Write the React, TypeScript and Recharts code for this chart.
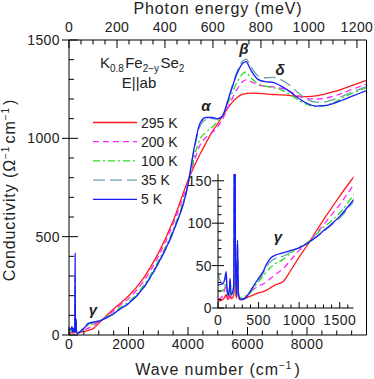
import { LineChart, Line, XAxis, YAxis } from "recharts";

const FONT = '"Liberation Sans", Arial, Helvetica, sans-serif';
const INK = "#222";

// wave number grid (cm^-1) shared by all temperatures
const wavenumber = [0, 40, 70, 90, 100, 110, 125, 140, 150, 160, 180, 195, 205, 215, 228, 240, 252, 270, 300, 350, 400, 450, 500, 550, 600, 650, 700, 800, 900, 1000, 1100, 1200, 1300, 1400, 1500, 1700, 2000, 2500, 3000, 3500, 4000, 4200, 4400, 4600, 4800, 5000, 5150, 5400, 5650, 5850, 5950, 6100, 6350, 6600, 6850, 7100, 7400, 7700, 8000, 8300, 8600, 8900, 9200, 9500, 10000];

const sigma295 = [8, 9, 11, 14, 16, 12, 10, 13, 16, 11, 12, 16, 90, 20, 12, 30, 13, 10, 10, 12, 14, 16, 18, 19, 21, 24, 27, 31, 45, 60, 74, 89, 104, 118, 132, 158, 198, 288, 415, 580, 785, 855, 918, 975, 1030, 1075, 1110, 1168, 1208, 1225, 1228, 1230, 1229, 1226, 1223, 1221, 1218, 1213, 1212, 1216, 1225, 1237, 1252, 1268, 1295];
const sigma200 = [10, 12, 18, 25, 28, 15, 12, 18, 26, 13, 14, 22, 150, 30, 13, 45, 15, 11, 11, 14, 19, 23, 26, 28, 31, 35, 39, 46, 57, 68, 77, 87, 98, 110, 122, 149, 185, 272, 398, 565, 775, 880, 965, 1005, 1028, 1060, 1095, 1175, 1250, 1290, 1297, 1290, 1272, 1265, 1262, 1255, 1240, 1217, 1202, 1200, 1203, 1215, 1230, 1248, 1275];
const sigma100 = [20, 20, 22, 28, 30, 18, 14, 20, 28, 14, 15, 25, 200, 40, 14, 55, 16, 12, 12, 15, 18, 25, 31, 37, 43, 48, 52, 57, 65, 72, 77, 86, 95, 103, 112, 137, 168, 250, 375, 535, 765, 900, 995, 1030, 1055, 1085, 1110, 1200, 1285, 1330, 1336, 1310, 1278, 1265, 1258, 1248, 1225, 1195, 1172, 1162, 1168, 1182, 1205, 1228, 1258];
const sigma35 = [40, 30, 28, 33, 38, 22, 15, 22, 33, 15, 17, 28, 300, 50, 15, 80, 18, 11, 11, 14, 20, 27, 33, 40, 49, 55, 58, 61, 66, 71, 76, 83, 90, 98, 106, 129, 158, 238, 362, 522, 765, 935, 1060, 1095, 1100, 1098, 1112, 1225, 1340, 1395, 1402, 1368, 1318, 1308, 1310, 1300, 1272, 1232, 1198, 1184, 1185, 1198, 1215, 1235, 1262];
const sigma5 = [27, 28, 30, 38, 43, 26, 15, 22, 35, 16, 18, 30, 415, 60, 14, 80, 18, 11, 10, 13, 20, 28, 35, 42, 52, 59, 62, 65, 68, 71, 76, 83, 91, 99, 108, 131, 160, 240, 365, 525, 765, 945, 1075, 1106, 1106, 1100, 1112, 1220, 1330, 1383, 1390, 1350, 1300, 1288, 1285, 1268, 1240, 1205, 1178, 1164, 1166, 1178, 1195, 1213, 1243];

const series = [
  { key: "t295", label: "295 K", values: sigma295, color: "#ff1a1a", dash: undefined },
  { key: "t200", label: "200 K", values: sigma200, color: "#ff22ff", dash: "6 4" },
  { key: "t100", label: "100 K", values: sigma100, color: "#22e022", dash: "7 3 2 3" },
  { key: "t35", label: "35 K", values: sigma35, color: "#66a3a8", dash: "12 5" },
  { key: "t5", label: "5 K", values: sigma5, color: "#1a1aff", dash: undefined },
];

// tick values
const mainXTicks = [0, 500, 1000, 1500, 2000, 2500, 3000, 3500, 4000, 4500, 5000, 5500, 6000, 6500, 7000, 7500, 8000, 8500, 9000, 9500];
const mainYTicks = [0, 100, 200, 300, 400, 500, 600, 700, 800, 900, 1000, 1100, 1200, 1300, 1400, 1500];
const photonMeV = [0, 50, 100, 150, 200, 250, 300, 350, 400, 450, 500, 550, 600, 650, 700, 750, 800, 850, 900, 950, 1000, 1050, 1100, 1150, 1200];
const insetXTicks = [0, 100, 200, 300, 400, 500, 600, 700, 800, 900, 1000, 1100, 1200, 1300, 1400, 1500, 1600];
const insetYTicks = [0, 10, 20, 30, 40, 50, 60, 70, 80, 90, 100, 110, 120, 130, 140, 150];

const CM_PER_MEV = 8.0655;
const topTicks = photonMeV.map((m) => m * CM_PER_MEV);

const rows = wavenumber.map((x, i) => {
  const r: any = { x };
  series.forEach((s) => (r[s.key] = s.values[i]));
  return r;
});
const insetRows = rows.filter((r) => r.x <= 2000);

// main plot frame (px)
const M = { left: 69, right: 366.5, top: 40, bottom: 335 };
// inset plot frame, local coords of the inset svg
const I = { left: 40, right: 175.5, top: 4, bottom: 138 };

const txt = { fontFamily: FONT, fontSize: 14, fill: INK, letterSpacing: 0.4 } as const;

const MainBottomTick = (p: any) => {
  const v = p.payload.value;
  const major = v % 2000 === 0;
  return (
    <g>
      <line x1={p.x} x2={p.x} y1={M.bottom} y2={M.bottom - (major ? 8 : 4.5)} stroke="#000" />
      {major && <text {...txt} x={p.x} y={348.5} textAnchor="middle">{v}</text>}
    </g>
  );
};
const MainTopTick = (p: any) => {
  const mev = Math.round(p.payload.value / CM_PER_MEV);
  const major = mev % 200 === 0;
  return (
    <g>
      <line x1={p.x} x2={p.x} y1={M.top} y2={M.top + (major ? 8 : 4.5)} stroke="#000" />
      {major && <text {...txt} x={p.x} y={32} textAnchor="middle">{mev}</text>}
    </g>
  );
};
const MainLeftTick = (p: any) => {
  const v = p.payload.value;
  const major = v % 500 === 0;
  return (
    <g>
      <line x1={major ? M.left - 7 : M.left} x2={M.left + (major ? 9 : 5)} y1={p.y} y2={p.y} stroke="#000" />
      {major && <text {...txt} x={60} y={p.y + 5} textAnchor="end">{v}</text>}
    </g>
  );
};
const MainRightTick = (p: any) => {
  const major = p.payload.value % 500 === 0;
  return <line x1={M.right} x2={M.right - (major ? 9 : 5)} y1={p.y} y2={p.y} stroke="#000" />;
};

const InsetBottomTick = (p: any) => {
  const v = p.payload.value;
  const major = v % 500 === 0;
  return (
    <g>
      <line x1={p.x} x2={p.x} y1={I.bottom} y2={I.bottom - (major ? 6 : 3.5)} stroke="#000" />
      {major && <text {...txt} x={p.x} y={155} textAnchor="middle">{v}</text>}
    </g>
  );
};
const InsetTopTick = (p: any) => {
  const major = p.payload.value % 500 === 0;
  return <line x1={p.x} x2={p.x} y1={I.top} y2={I.top + (major ? 6 : 3.5)} stroke="#000" />;
};
const InsetLeftTick = (p: any) => {
  const v = p.payload.value;
  const major = v % 50 === 0;
  return (
    <g>
      <line x1={major ? I.left - 6 : I.left} x2={I.left + (major ? 6 : 3.5)} y1={p.y} y2={p.y} stroke="#000" />
      {major && <text {...txt} x={34} y={p.y + 5} textAnchor="end">{v}</text>}
    </g>
  );
};
const InsetRightTick = (p: any) => {
  const major = p.payload.value % 50 === 0;
  return <line x1={I.right} x2={I.right - (major ? 6 : 3.5)} y1={p.y} y2={p.y} stroke="#000" />;
};

const lines = (prefix: string) =>
  series.map((s) => (
    <Line
      key={prefix + s.key}
      xAxisId="b"
      yAxisId="l"
      type="monotone"
      dataKey={s.key}
      stroke={s.color}
      strokeWidth={1.3}
      strokeDasharray={s.dash}
      dot={false}
      activeDot={false}
      isAnimationActive={false}
    />
  ));

const Sup = ({ children }: any) => (
  <>
    <tspan fontSize={10} dy={-6}>{children}</tspan>
    <tspan dy={6}>{"\u200a"}</tspan>
  </>
);
const Sub = ({ children }: any) => (
  <>
    <tspan fontSize={10} dy={4}>{children}</tspan>
    <tspan dy={-4}>{"\u200a"}</tspan>
  </>
);

const greek = { fontFamily: FONT, fontSize: 15, fontStyle: "italic", fontWeight: 700, fill: INK, textAnchor: "middle" } as const;

export default function App() {
  return (
    <div style={{ position: "absolute", left: 0, top: 0, width: 374, height: 379, background: "#fff" }}>
      <LineChart width={374} height={379} data={rows} margin={{ top: 0, right: 0, bottom: 0, left: 0 }}>
        <XAxis xAxisId="b" dataKey="x" type="number" domain={[0, 10000]} allowDataOverflow ticks={mainXTicks} interval={0} height={44} tickLine={false} axisLine={{ stroke: "#000" }} tick={MainBottomTick} />
        <XAxis xAxisId="t" orientation="top" dataKey="x" type="number" domain={[0, 10000]} allowDataOverflow ticks={topTicks} interval={0} height={40} tickLine={false} axisLine={{ stroke: "#000" }} tick={MainTopTick} />
        <YAxis yAxisId="l" type="number" domain={[0, 1500]} allowDataOverflow ticks={mainYTicks} interval={0} width={69} tickLine={false} axisLine={{ stroke: "#000" }} tick={MainLeftTick} />
        <YAxis yAxisId="r" orientation="right" type="number" domain={[0, 1500]} ticks={mainYTicks} interval={0} width={7.5} tickLine={false} axisLine={{ stroke: "#000" }} tick={MainRightTick} />
        {lines("m")}
      </LineChart>

      <div style={{ position: "absolute", left: 178, top: 170 }}>
        <LineChart width={180} height={160} data={insetRows} margin={{ top: 4, right: 4.5, bottom: 0, left: 0 }}>
          <XAxis xAxisId="b" dataKey="x" type="number" domain={[0, 1670]} allowDataOverflow ticks={insetXTicks} interval={0} height={22} tickLine={false} axisLine={{ stroke: "#000" }} tick={InsetBottomTick} />
          <XAxis xAxisId="t" orientation="top" dataKey="x" type="number" domain={[0, 1670]} allowDataOverflow ticks={insetXTicks} interval={0} height={0} tickLine={false} axisLine={{ stroke: "#000" }} tick={InsetTopTick} />
          <YAxis yAxisId="l" type="number" domain={[0, 158]} allowDataOverflow ticks={insetYTicks} interval={0} width={40} tickLine={false} axisLine={{ stroke: "#000" }} tick={InsetLeftTick} />
          <YAxis yAxisId="r" orientation="right" type="number" domain={[0, 158]} ticks={insetYTicks} interval={0} width={0} tickLine={false} axisLine={{ stroke: "#000" }} tick={InsetRightTick} />
          {lines("i")}
        </LineChart>
      </div>

      <svg width={374} height={379} style={{ position: "absolute", left: 0, top: 0, pointerEvents: "none" }}>
        <text fontFamily={FONT} fontSize={16} fill={INK} letterSpacing={0.9} x={218} y={14} textAnchor="middle">Photon energy (meV)</text>
        <text fontFamily={FONT} fontSize={16} fill={INK} letterSpacing={0.9} x={218} y={375} textAnchor="middle">
          Wave number (cm<Sup>−1</Sup>)
        </text>
        <text fontFamily={FONT} fontSize={16} fill={INK} letterSpacing={0.9} transform="translate(15,190) rotate(-90)" textAnchor="middle">
          Conductivity (Ω<Sup>−1</Sup>cm<Sup>−1</Sup>)
        </text>

        <text fontFamily={FONT} fontSize={15} fill={INK} x={100} y={68}>
          K<Sub>0.8</Sub>Fe<Sub>2−y</Sub>Se<Sub>2</Sub>
        </text>
        <text fontFamily={FONT} fontSize={15} fill={INK} x={139} y={88} textAnchor="middle">E||ab</text>

        {series.map((s, i) => {
          const y = 122.5 + i * 19.2;
          return (
            <g key={s.key}>
              <line x1={93} x2={137} y1={y} y2={y} stroke={s.color} strokeWidth={1.3} strokeDasharray={s.dash} />
              <text {...txt} letterSpacing={0} x={141} y={y + 5}>{s.label}</text>
            </g>
          );
        })}

        <text {...greek} x={206} y={111}>α</text>
        <text {...greek} x={244} y={54}>β</text>
        <text {...greek} x={280} y={75}>δ</text>
        <text {...greek} x={93} y={315}>γ</text>
        <text {...greek} x={278} y={242}>γ</text>
      </svg>
    </div>
  );
}
